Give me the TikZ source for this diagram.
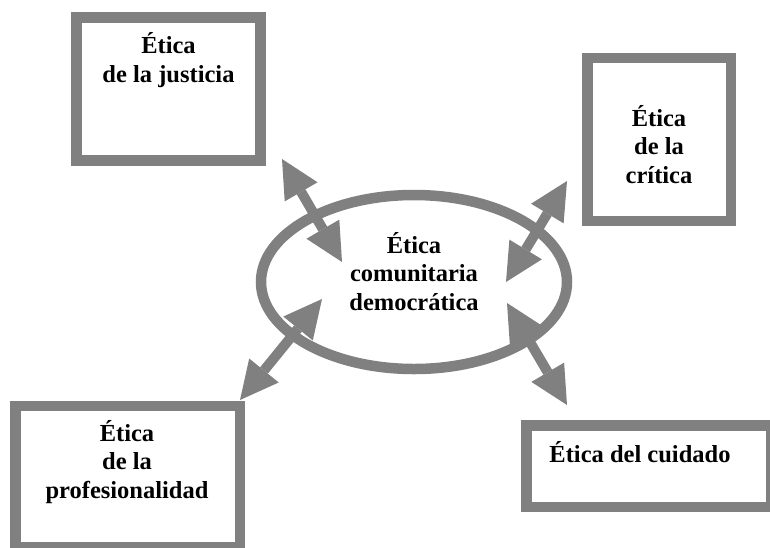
\documentclass[tikz,border=0pt]{standalone}
\usepackage{fontspec}
\setmainfont{Liberation Serif}
\usetikzlibrary{shapes.geometric,arrows.meta}
\definecolor{framegray}{HTML}{808080}
\begin{document}
\begin{tikzpicture}[x=1pt,y=-1pt,
  frame/.style={draw=framegray,line width=10.5pt,fill=white,rectangle,inner sep=0pt},
  lbl/.style={font=\fontsize{24.5}{28.5}\selectfont\bfseries,align=center,inner sep=0pt,anchor=base},
  dbl/.style={draw=framegray,line width=10pt,
    {Triangle[length=38pt,width=38pt,line width=0pt]}-{Triangle[length=38pt,width=38pt,line width=0pt]}}]
\useasboundingbox (0,0) rectangle (770,547);
\clip (0,0) rectangle (770,547);
% boxes
\node[frame,minimum width=184pt,minimum height=143pt] (A) at (168.5,89) {};
\node[frame,minimum width=143.5pt,minimum height=163pt] (B) at (659.25,139.5) {};
\node[frame,minimum width=224.5pt,minimum height=141pt] (C) at (127.75,476.5) {};
\node[frame,minimum width=244.5pt,minimum height=81.5pt] (D) at (648.75,466.25) {};
% ellipse
\node[draw=framegray,line width=10.5pt,ellipse,inner sep=0pt,minimum width=306pt,minimum height=174pt] (E) at (414,282) {};
% texts
\node[lbl] (tA) at (168.5,82) {Ética\\de la justicia};
\node[lbl] (tB) at (659,183) {Ética\\de la\\crítica};
\node[lbl] (tC) at (127,498) {Ética\\de la\\profesionalidad};
\node[lbl] (tD) at (640,462) {Ética del cuidado};
\node[lbl] (tE) at (414,310) {Ética\\comunitaria\\democrática};
% arrow ends
\coordinate (a1) at (282,159); \coordinate (a2) at (342,262);
\coordinate (b1) at (567,181); \coordinate (b2) at (506,282);
\coordinate (c1) at (322,299); \coordinate (c2) at (240,400);
\coordinate (d1) at (507,303); \coordinate (d2) at (567,405);
\draw[dbl] (a1) -- (a2);
\draw[dbl] (b1) -- (b2);
\draw[dbl] (c1) -- (c2);
\draw[dbl] (d1) -- (d2);
\end{tikzpicture}
\end{document}
